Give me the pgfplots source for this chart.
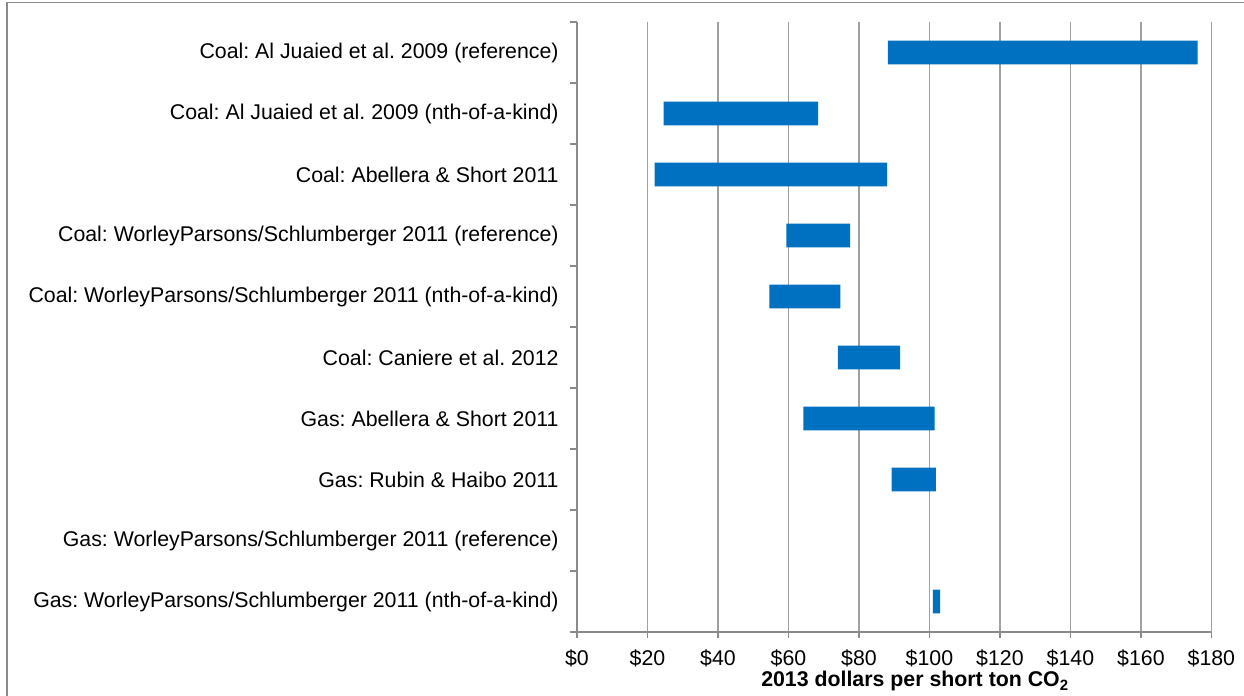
\documentclass[border=0pt]{standalone}
\usepackage{pgfplots}
\pgfplotsset{compat=1.18}
\usepackage{pgfplotstable}
\usepackage{fontspec}
\setmainfont{Liberation Sans}
\frenchspacing

\definecolor{barblue}{HTML}{0070C0}
\definecolor{gridgray}{HTML}{A0A0A0}
\definecolor{axisgray}{HTML}{8A8A8A}

% y = category slot (10 = top row), start of the range, length of the range
\pgfplotstableread{
y  start len
10 88.2  87.9
9  24.6  43.8
8  22.0  66.0
7  59.4  18.1
6  54.6  20.1
5  74.0  17.7
4  64.2  37.3
3  89.3  12.5
2  0     0
1  101.0 2.0
}\ranges

\begin{document}
\begin{tikzpicture}
\useasboundingbox (0,0) rectangle (622pt,348pt);
\draw[axisgray, line width=0.65pt] (3.5pt,0) -- (3.5pt,346.75pt) -- (622pt,346.75pt);
\begin{axis}[
  at={(288.5pt,32pt)}, anchor=south west,
  scale only axis, width=317.2pt, height=305pt,
  xmin=0, xmax=180, ymin=0.5, ymax=10.5,
  xbar stacked, bar width=11.85pt,
  axis x line=bottom, axis y line=left,
  x axis line style={-, axisgray, line width=0.7pt},
  y axis line style={-, axisgray, line width=0.7pt},
  xtick={0,20,...,180},
  xticklabels={\$0,\$20,\$40,\$60,\$80,\$100,\$120,\$140,\$160,\$180},
  ytick={1,...,10},
  yticklabels={
    Gas: WorleyParsons/Schlumberger 2011 (nth-of-a-kind),
    Gas: WorleyParsons/Schlumberger 2011 (reference),
    Gas: Rubin \& Haibo 2011,
    Gas: Abellera \& Short 2011,
    Coal: Caniere et al. 2012,
    Coal: WorleyParsons/Schlumberger 2011 (nth-of-a-kind),
    Coal: WorleyParsons/Schlumberger 2011 (reference),
    Coal: Abellera \& Short 2011,
    Coal: Al Juaied et al. 2009 (nth-of-a-kind),
    Coal: Al Juaied et al. 2009 (reference)},
  minor ytick={0.5,1.5,...,10.5},
  tick align=outside,
  major tick length=3pt, minor tick length=3.5pt,
  major y tick style={draw=none},
  minor y tick style={axisgray, line width=0.6pt},
  major x tick style={axisgray, line width=0.6pt},
  xmajorgrids, ymajorgrids=false,
  grid style={gridgray, line width=0.6pt},
  tick label style={font=\fontsize{10.66}{12.8}\selectfont, black},
  yticklabel style={anchor=east, inner sep=0pt, xshift=-6pt},
  xticklabel style={anchor=base, inner sep=0pt, yshift=-14pt},
  xlabel={\textbf{2013 dollars per short ton CO\textsubscript{2}}},
  xlabel style={at={(axis description cs:0.5,0)}, anchor=base, inner sep=0pt,
    yshift=-27.5pt, xshift=10.5pt, font=\fontsize{10.66}{12.8}\selectfont},
]
\addplot[draw=none, fill=none] table[x=start, y=y] {\ranges};
\addplot[draw=none, fill=barblue] table[x=len, y=y] {\ranges};
\end{axis}
\end{tikzpicture}
\end{document}
